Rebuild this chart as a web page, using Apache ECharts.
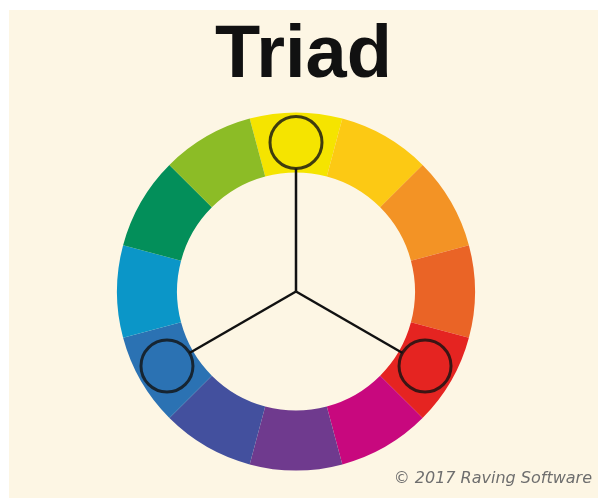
<!DOCTYPE html>
<html>
<head>
<meta charset="utf-8">
<script src="https://cdn.jsdelivr.net/npm/echarts@6/dist/echarts.min.js"></script>
<style>
html,body{margin:0;padding:0;background:#ffffff;width:598px;height:498px;overflow:hidden;}
#chart{position:absolute;left:9px;top:10px;width:589px;height:488px;}
</style>
</head>
<body>
<div id="chart"></div>
<script>
// Color wheel segments, clockwise starting at the top
var segmentNames = ['Yellow','Yellow-Orange','Orange','Red-Orange','Red','Red-Violet','Violet','Blue-Violet','Blue','Blue-Green','Green','Yellow-Green'];
var segmentValues = [1,1,1,1,1,1,1,1,1,1,1,1];
var segmentColors = ['#f5e400','#fcc914','#f39325','#ea6426','#e52421','#c8087e','#6f3a8e','#43509e','#2b72b3','#0b96c8','#038f5a','#8cbc26'];
// Triad picks: angle in degrees clockwise from top, radius (wheel units)
var triadNames = ['Yellow','Red','Blue'];
var triadAngles = [0, 120, 240];
var triadRadius = 149;
var titleText = 'Triad';
var creditText = '\u00a9 2017 Raving Software';

var chart = echarts.init(document.getElementById('chart'));
var cx = 287, cy = 281.5, outerR = 179, innerR = 119, markerSize = 52;

var series = [{
  type: 'pie',
  center: [cx, cy],
  radius: [innerR, outerR],
  startAngle: 105,
  clockwise: true,
  silent: true,
  label: {show: false},
  labelLine: {show: false},
  itemStyle: {borderWidth: 0},
  data: segmentNames.map(function(n, i){
    return {name: n, value: segmentValues[i], itemStyle: {color: segmentColors[i]}};
  })
}];

triadAngles.forEach(function(a, i){
  series.push({
    type: 'line',
    coordinateSystem: 'polar',
    symbol: 'none',
    silent: true,
    lineStyle: {color: '#111111', width: 2.5},
    data: [[0, a], [triadRadius - markerSize/2, a]],
    z: 3
  });
});

series.push({
  type: 'scatter',
  coordinateSystem: 'polar',
  symbol: 'circle',
  symbolSize: markerSize,
  silent: true,
  itemStyle: {color: 'rgba(0,0,0,0)', borderColor: '#111111', borderWidth: 3},
  data: triadAngles.map(function(a, i){ return {name: triadNames[i], value: [triadRadius, a]}; }),
  z: 4
});

chart.setOption({
  backgroundColor: '#fdf6e4',
  animation: false,
  title: [{
    text: titleText,
    left: 'center',
    top: 5,
    textStyle: {fontFamily: 'Liberation Sans', fontWeight: 'bold', fontSize: 74, color: '#111111'}
  }, {
    text: creditText,
    right: 1,
    bottom: 6,
    textStyle: {fontFamily: 'DejaVu Sans', fontStyle: 'italic', fontWeight: 'normal', fontSize: 16, color: '#6e6e6e'}
  }],
  polar: {center: [cx, cy], radius: outerR},
  angleAxis: {type: 'value', min: 0, max: 360, startAngle: 90, clockwise: true, show: false},
  radiusAxis: {type: 'value', min: 0, max: outerR, show: false},
  series: series
});
</script>
</body>
</html>
